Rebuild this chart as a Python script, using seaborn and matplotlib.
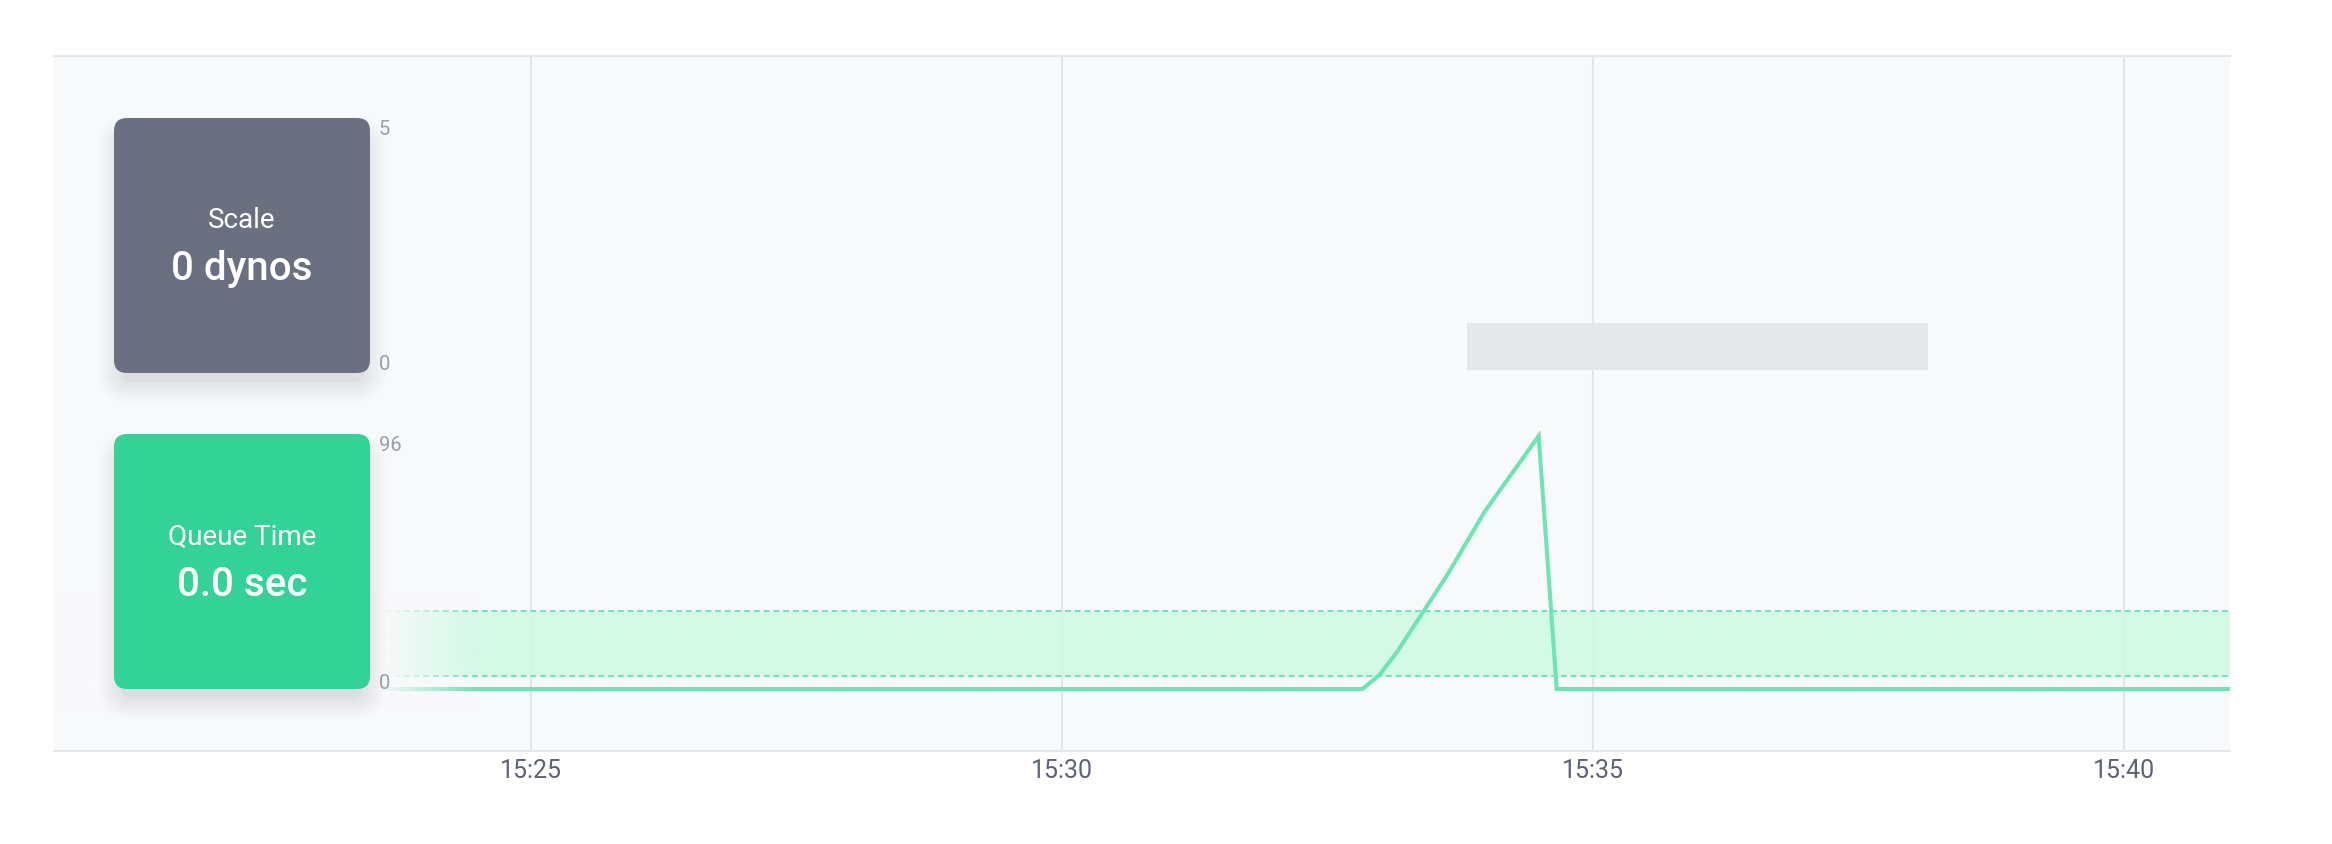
import numpy as np
import matplotlib
matplotlib.use("Agg")
import matplotlib.pyplot as plt
import seaborn as sns
from matplotlib.patches import FancyBboxPatch
from matplotlib.transforms import blended_transform_factory

# ---------------- data ----------------
# time axis in minutes after 15:00
x_range = [20.51, 41.0]
tick_minutes = [25, 30, 35, 40]
tick_labels = ["15:25", "15:30", "15:35", "15:40"]

queue_minutes = [20.5, 32.83, 32.99, 33.15, 33.63, 33.98, 34.49, 34.66, 41.0]
queue_values = [0, 0, 5.3, 13.7, 43.3, 67.2, 96, 0, 0]
queue_band_low = 5.0
queue_band_high = 29.6
queue_axis_labels = [96, 0]

scale_bar_minutes = [33.82, 38.16]
scale_bar_values = [0, 1]
scale_axis_labels = [5, 0]

card_titles = ["Scale", "Queue Time"]
card_values = ["0 dynos", "0.0 sec"]

# ---------------- style ----------------
sns.set_theme(style="white")
plt.rcParams["font.family"] = ["Roboto", "DejaVu Sans"]

W, H = 2332, 844
BG = "#f8f9fb"
GREEN_LINE = "#6de4b4"
GREEN_BAND = "#d2f9e5"
GREY_CARD = "#6b7080"
GREEN_CARD = "#33d398"
BORDER = "#e4e5e9"
GRID = "#e3e4e8"
TICK_COLOR = "#5e6374"
YLAB_COLOR = "#9a9ea8"

fig = plt.figure(figsize=(W / 100, H / 100), dpi=100)
fig.patch.set_facecolor("white")


def px_rect(x0, y0, x1, y1):
    return [x0 / W, 1 - y1 / H, (x1 - x0) / W, (y1 - y0) / H]


ax = fig.add_axes(px_rect(54, 56, 2230, 751))
ax.set_facecolor(BG)
ax2 = ax.twinx()

# queue band + dashed bounds
ax.fill_between(x_range, queue_band_low, queue_band_high, color=GREEN_BAND,
                lw=0, alpha=0.93, zorder=1)
for v in (queue_band_low, queue_band_high):
    ax.axhline(v, color=GREEN_LINE, lw=1.4, dashes=(3, 2), zorder=2)

# queue time line
sns.lineplot(x=queue_minutes, y=queue_values, ax=ax, color=GREEN_LINE,
             lw=2.9, zorder=3, solid_joinstyle="miter", sort=False)

# scale bar
ax2.fill_between(scale_bar_minutes, scale_bar_values[0], scale_bar_values[1],
                 color="#e6e7ea", lw=0, zorder=1)

# left fade mask over the queue panel
fade_start, fade_end = 23.6, 24.49
n = 256
xs = np.linspace(x_range[0], fade_end, n)
alpha = np.clip((fade_end - xs) / (fade_end - fade_start), 0, 1)
img = np.zeros((2, n, 4))
rgb = matplotlib.colors.to_rgb(BG)
img[..., 0], img[..., 1], img[..., 2] = rgb
img[..., 3] = alpha[None, :]
ax.imshow(img, extent=[x_range[0], fade_end, -8, 36], aspect="auto",
          interpolation="bilinear", zorder=4)

# axes limits / ticks
ax.set_xlim(*x_range)
ax.set_ylim(-23.53, 240.2)
ax2.set_ylim(-8.106, 6.681)
ax.set_xticks(tick_minutes)
ax.set_xticklabels(tick_labels, fontsize=18, color=TICK_COLOR)
ax.tick_params(axis="x", length=0, pad=6)
ax.set_yticks([])
ax2.set_yticks([])
ax.grid(axis="x", color=GRID, lw=1.5)
ax.grid(axis="y", visible=False)
ax.set_axisbelow(True)
ax.set_xlabel("")
ax.set_ylabel("")
for s in ("left", "right"):
    ax.spines[s].set_visible(False)
for s in ("top", "bottom"):
    ax.spines[s].set_color(BORDER)
    ax.spines[s].set_linewidth(1.5)
for s in ax2.spines.values():
    s.set_visible(False)

# y labels drawn inside the plot
lab_x = 379 / W
tr_q = blended_transform_factory(fig.transFigure, ax.transData)
tr_s = blended_transform_factory(fig.transFigure, ax2.transData)
ax2.text(lab_x, scale_axis_labels[0], str(scale_axis_labels[0]), transform=tr_s,
         va="baseline", ha="left", fontsize=14.5, color=YLAB_COLOR, zorder=6)
ax2.text(lab_x, scale_axis_labels[1], str(scale_axis_labels[1]), transform=tr_s,
         va="baseline", ha="left", fontsize=14.5, color=YLAB_COLOR, zorder=6)
ax.text(lab_x, queue_axis_labels[0], str(queue_axis_labels[0]), transform=tr_q,
        va="top", ha="left", fontsize=14.5, color=YLAB_COLOR, zorder=6)
ax.text(lab_x, queue_axis_labels[1], str(queue_axis_labels[1]), transform=tr_q,
        va="baseline", ha="left", fontsize=14.5, color=YLAB_COLOR, zorder=6)

# ---------------- cards overlay ----------------
ov = fig.add_axes([0, 0, 1, 1], zorder=5)
ov.set_xlim(0, W)
ov.set_ylim(H, 0)
ov.axis("off")
ov.patch.set_alpha(0)

cards = [
    (114, 118, 256, 255, GREY_CARD, card_titles[0], card_values[0], 228, 280),
    (114, 434, 256, 255, GREEN_CARD, card_titles[1], card_values[1], 545, 596),
]
for (x0, y0, w, h, col, title, value, ty, vy) in cards:
    # soft shadow (mostly below the card)
    for k in range(10):
        e = 2 + k * 2.0
        ov.add_patch(FancyBboxPatch((x0 - e + 4, y0 + 18 - e), w + 2 * e - 8, h + 2 * e - 8,
                                    boxstyle=f"round,pad=0,rounding_size={13 + e}",
                                    fc="#8a8fa0", ec="none", alpha=0.015, zorder=1))
    ov.add_patch(FancyBboxPatch((x0 + 6, y0 + 10), w - 12, h,
                                boxstyle="round,pad=0,rounding_size=14",
                                fc="#d0d2d9", ec="none", alpha=0.35, zorder=2))
    ov.add_patch(FancyBboxPatch((x0, y0), w, h,
                                boxstyle="round,pad=0,rounding_size=13",
                                fc=col, ec="none", zorder=3))
    cx = x0 + w / 2
    ov.text(cx, ty, title, ha="center", va="baseline", fontsize=20,
            color="white", zorder=4)
    ov.text(cx, vy, value, ha="center", va="baseline", fontsize=29,
            color="white", fontweight="medium", zorder=4)

fig.savefig("out.png", dpi=100, facecolor="white")
